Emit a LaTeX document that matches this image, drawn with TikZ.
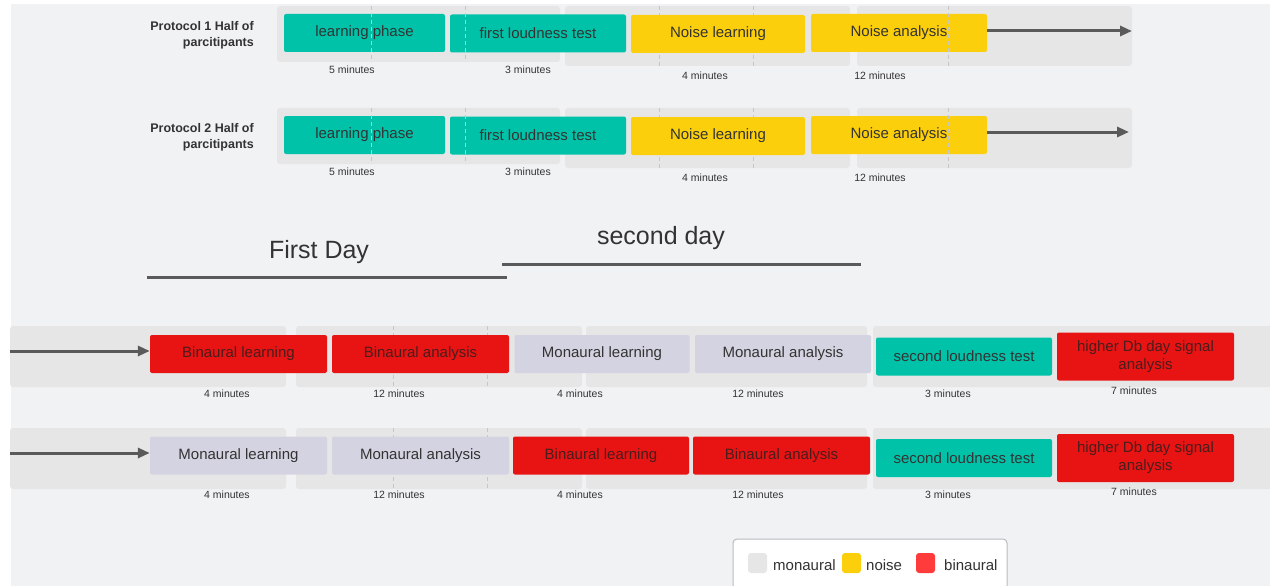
\documentclass[tikz,border=0pt]{standalone}
\usepackage{fontspec}
\setmainfont{Liberation Sans}
\usetikzlibrary{arrows.meta}
\definecolor{bgc}{HTML}{F1F2F4}
\definecolor{bandc}{HTML}{E6E6E6}
\definecolor{tealc}{HTML}{00C2A8}
\definecolor{yelc}{HTML}{FCCF0C}
\definecolor{redc}{HTML}{E81414}
\definecolor{lavc}{HTML}{D4D3E1}
\definecolor{txtc}{HTML}{333333}
\definecolor{redtxt}{HTML}{4A1C1C}
\definecolor{arrc}{HTML}{5A5A5A}
\definecolor{dashc}{HTML}{C6C6C6}
\definecolor{legred}{HTML}{FF3B3B}
\definecolor{legborder}{HTML}{B8BCC0}
\newcommand\bandrect[4]{\fill[bandc, rounded corners=3pt] (#1,#2) rectangle (#3,#4);}
\begin{document}
\begin{tikzpicture}[x=1pt,y=-1pt,
  box/.style={rounded corners=2pt, inner sep=0pt, minimum height=38pt, text=txtc,
    font=\fontsize{15}{18}\selectfont, align=center},
  tealbox/.style={box, fill=tealc},
  yelbox/.style={box, fill=yelc},
  redbox/.style={box, fill=redc, text=redtxt},
  lavbox/.style={box, fill=lavc},
  dashv/.style={draw=dashc, line width=0.8pt, dash pattern=on 4pt off 3pt},
  timelbl/.style={inner sep=0pt, text=txtc, font=\fontsize{10.5}{12}\selectfont},
  protlbl/.style={inner sep=0pt, anchor=east, align=right, text=txtc,
    font=\fontsize{12.5}{16}\selectfont\bfseries},
  arrowline/.style={draw=arrc, line width=3pt, -{Triangle[length=12pt,width=10pt]}},
  dayline/.style={draw=arrc, line width=3pt},
  daylbl/.style={inner sep=0pt, text=txtc, font=\fontsize{25}{30}\selectfont},
  legsq/.style={rounded corners=3pt, inner sep=0pt, minimum width=19pt, minimum height=20pt},
  legtxt/.style={inner sep=0pt, anchor=west, text=txtc, font=\fontsize{15}{18}\selectfont}
]
% canvas
\fill[white] (0,0) rectangle (1270,586);
\fill[bgc] (11,4) rectangle (1270,586);
\useasboundingbox (0,0) rectangle (1270,586);

% ---------- Protocol rows ----------
\foreach \dy in {0,102}{
  \bandrect{277}{6+\dy}{560}{62+\dy}
  \bandrect{565}{6+\dy}{850}{66+\dy}
  \bandrect{857}{6+\dy}{1132}{66+\dy}
}

\node[protlbl] (p1) at (254,35) {Protocol 1 Half of\\parcitipants};
\node[tealbox, minimum width=161pt] (lp1) at (364.5,33) {learning phase};
\node[tealbox, minimum width=176pt] (fl1) at (538,33.5) {first loudness test};
\node[yelbox, minimum width=174pt] (nl1) at (718,34) {Noise learning};
\node[yelbox, minimum width=176pt] (na1) at (899,33) {Noise analysis};
\coordinate (e1) at (1132,31);
\draw[arrowline] (e1 -| na1.east) -- (e1);
\node[timelbl] (t1a) at (352,70) {5 minutes};
\node[timelbl] (t1b) at (528,70) {3 minutes};
\node[timelbl] (t1c) at (705,76) {4 minutes};
\node[timelbl] (t1d) at (880,76) {12 minutes};

\node[protlbl] (p2) at (254,137) {Protocol 2 Half of\\parcitipants};
\node[tealbox, minimum width=161pt] (lp2) at (364.5,135) {learning phase};
\node[tealbox, minimum width=176pt] (fl2) at (538,135.5) {first loudness test};
\node[yelbox, minimum width=174pt] (nl2) at (718,136) {Noise learning};
\node[yelbox, minimum width=176pt] (na2) at (899,135) {Noise analysis};
\coordinate (e2) at (1129,132);
\draw[arrowline] (e2 -| na2.east) -- (e2);
\node[timelbl] (t2a) at (352,172) {5 minutes};
\node[timelbl] (t2b) at (528,172) {3 minutes};
\node[timelbl] (t2c) at (705,178) {4 minutes};
\node[timelbl] (t2d) at (880,178) {12 minutes};

% dashed guides over the protocol boxes
\foreach \dy in {0,102}{
  \draw[dashv] (371,6+\dy) -- (371,62+\dy);
  \draw[dashv] (465,6+\dy) -- (465,62+\dy);
  \draw[dashv] (659,6+\dy) -- (659,66+\dy);
  \draw[dashv] (753,6+\dy) -- (753,66+\dy);
  \draw[dashv] (948,6+\dy) -- (948,66+\dy);
}

% ---------- Day labels ----------
\node[daylbl] (d1) at (319,252) {First Day};
\coordinate (d1a) at (147,277);
\coordinate (d1b) at (507,277);
\draw[dayline] (d1a) -- (d1b);
\node[daylbl] (d2) at (661,238) {second day};
\coordinate (d2a) at (502,264);
\coordinate (d2b) at (861,264);
\draw[dayline] (d2a) -- (d2b);

% ---------- Day rows ----------
\foreach \dy in {0,102}{
  \bandrect{10}{326+\dy}{286}{387+\dy}
  \bandrect{296}{326+\dy}{582}{387+\dy}
  \bandrect{586}{326+\dy}{867}{387+\dy}
  \bandrect{873}{326+\dy}{1275}{387+\dy}
  \draw[dashv] (393,326+\dy) -- (393,387+\dy);
  \draw[dashv] (487,326+\dy) -- (487,387+\dy);
}

\node[redbox, minimum width=177pt] (r3a) at (238.5,354) {Binaural learning};
\node[redbox, minimum width=177pt] (r3b) at (420.5,354) {Binaural analysis};
\node[lavbox, minimum width=175pt] (r3c) at (602,354) {Monaural learning};
\node[lavbox, minimum width=176pt] (r3d) at (783,354) {Monaural analysis};
\node[tealbox, minimum width=176pt] (r3e) at (964,356.5) {second loudness test};
\node[redbox, minimum width=177pt, minimum height=48pt] (r3f) at (1145.5,356.5) {higher Db day signal\\analysis};
\coordinate (s3) at (10,351);
\draw[arrowline] (s3) -- (s3 -| r3a.west);
\node[timelbl] (t3a) at (227,394) {4 minutes};
\node[timelbl] (t3b) at (399,394) {12 minutes};
\node[timelbl] (t3c) at (580,394) {4 minutes};
\node[timelbl] (t3d) at (758,394) {12 minutes};
\node[timelbl] (t3e) at (948,394) {3 minutes};
\node[timelbl] (t3f) at (1134,391) {7 minutes};

\node[lavbox, minimum width=177pt] (r4a) at (238.5,455.5) {Monaural learning};
\node[lavbox, minimum width=177pt] (r4b) at (420.5,455.5) {Monaural analysis};
\node[redbox, minimum width=176pt] (r4c) at (601,455.5) {Binaural learning};
\node[redbox, minimum width=177pt] (r4d) at (781.5,455.5) {Binaural analysis};
\node[tealbox, minimum width=176pt] (r4e) at (964,458) {second loudness test};
\node[redbox, minimum width=177pt, minimum height=48pt] (r4f) at (1145.5,458) {higher Db day signal\\analysis};
\coordinate (s4) at (10,453);
\draw[arrowline] (s4) -- (s4 -| r4a.west);
\node[timelbl] (t4a) at (227,495) {4 minutes};
\node[timelbl] (t4b) at (399,495) {12 minutes};
\node[timelbl] (t4c) at (580,495) {4 minutes};
\node[timelbl] (t4d) at (758,495) {12 minutes};
\node[timelbl] (t4e) at (948,495) {3 minutes};
\node[timelbl] (t4f) at (1134,492) {7 minutes};

% ---------- Legend ----------
\draw[legborder, fill=white, rounded corners=4pt, line width=1pt] (733,539) rectangle (1007,596);
\node[legsq, fill=bandc] (lg1) at (757.5,563) {};
\node[legtxt] (lt1) at (773,565) {monaural};
\node[legsq, fill=yelc] (lg2) at (851.5,563) {};
\node[legtxt] (lt2) at (866,565) {noise};
\node[legsq, fill=legred] (lg3) at (925.5,563) {};
\node[legtxt] (lt3) at (944,565) {binaural};
\end{tikzpicture}
\end{document}
